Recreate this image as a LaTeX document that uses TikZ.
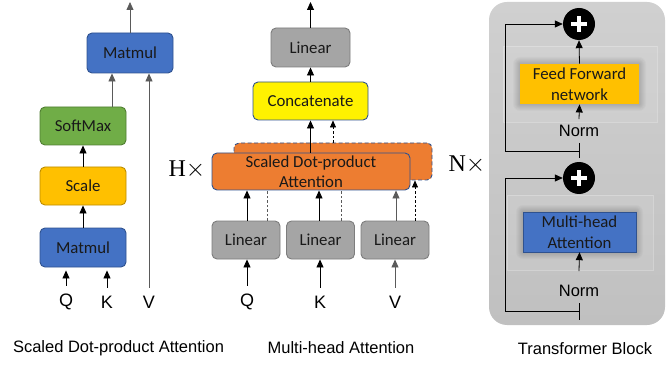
\documentclass[tikz,border=0pt]{standalone}
\usepackage{fontspec}
\setmainfont{Liberation Sans}
\newfontfamily\boxfont{Carlito}
\newfontfamily\timesfont{Liberation Serif}
\usetikzlibrary{positioning,calc,arrows.meta}

\definecolor{mmblue}{RGB}{68,114,196}
\definecolor{mmedge}{RGB}{47,82,143}
\definecolor{smgreen}{RGB}{112,173,71}
\definecolor{smedge}{RGB}{80,126,50}
\definecolor{scgold}{RGB}{255,192,0}
\definecolor{scedge}{RGB}{188,140,0}
\definecolor{lingray}{RGB}{165,165,165}
\definecolor{linedge}{RGB}{125,125,125}
\definecolor{attorange}{RGB}{237,125,49}
\definecolor{panellight}{RGB}{208,208,208}
\definecolor{paneldark}{RGB}{192,192,192}
\definecolor{wiregray}{RGB}{90,90,90}
\definecolor{inktext}{RGB}{25,25,25}

\begin{document}
\begin{tikzpicture}[x=1pt, y=-1pt,
    blk/.style={rounded corners=5pt, line width=0.9pt, inner sep=0pt, align=center,
                text=inktext, font=\boxfont\fontsize{16.8}{20.5}\selectfont},
    arr/.style={-{Triangle[length=8pt,width=7pt]}, line width=0.8pt},
    dsh/.style={dashed, line width=0.6pt, dash pattern=on 2.5pt off 2pt},
    lbl/.style={inner sep=0pt, font=\fontsize{18}{20}\selectfont},
    captxt/.style={inner sep=0pt, font=\fontsize{16.5}{20}\selectfont},
    reptxt/.style={inner sep=0pt, font=\timesfont\fontsize{24}{26}\selectfont},
    plusnode/.style={circle, fill=black, minimum size=32pt, inner sep=0pt}]
    \useasboundingbox (0,0) rectangle (666,366);

    % Scaled Dot-product Attention
    \node [blk, fill=mmblue, draw=mmedge, minimum width=86pt, minimum height=40pt] (mmtop) at (130,53) {Matmul};
    \node [blk, fill=smgreen, draw=smedge, minimum width=86pt, minimum height=38pt] (soft) at (83,126) {SoftMax};
    \node [blk, fill=scgold, draw=scedge, minimum width=86pt, minimum height=38pt] (scale) at (83,186) {Scale};
    \node [blk, fill=mmblue, draw=mmedge, minimum width=86pt, minimum height=39pt] (mmbot) at (83,247.5) {Matmul};
    \node [lbl] (q1) at (66,302) {Q};
    \node [lbl] (k1) at (107,302) {K};
    \node [lbl] (v1) at (149,302) {V};
    \coordinate (outA) at (130,2);

    \draw[arr] ([yshift=8pt]q1.north) -- ([yshift=-3pt]q1.north |- mmbot.south);
    \draw[arr] ([yshift=8pt]k1.north) -- ([yshift=-3pt]k1.north |- mmbot.south);
    \draw[arr] (mmbot.north) -- (scale.south);
    \draw[arr] (scale.north) -- (soft.south);
    \draw[arr, draw=wiregray] ([xshift=29pt]soft.north) -- ([xshift=29pt]soft.north |- mmtop.south);
    \draw[arr, draw=wiregray] ([yshift=8pt]v1.north) -- (v1.north |- mmtop.south);
    \draw[arr, draw=wiregray] (mmtop.north) -- (outA);
    \node [captxt] (capA) at (118.5,348) {Scaled Dot-product Attention};

    % Multi-head Attention
    \node [blk, fill=lingray, draw=linedge, minimum width=79pt, minimum height=39pt] (linout) at (310.5,47.5) {Linear};
    \node [blk, fill=yellow, draw=mmedge, minimum width=115pt, minimum height=38pt] (concat) at (310.5,101) {Concatenate};
    \node [blk, fill=attorange, draw=mmedge, dashed, dash pattern=on 4pt off 2.5pt, minimum width=198pt, minimum height=37pt] (headB) at (333,161.5) {};
    \node [blk, fill=attorange, draw=mmedge, minimum width=198pt, minimum height=37pt] (headA) at (311,171.5) {Scaled Dot-product\\Attention};
    \node [blk, fill=lingray, draw=linedge, minimum width=68pt, minimum height=38pt] (linq) at (246,240) {Linear};
    \node [blk, fill=lingray, draw=linedge, minimum width=68pt, minimum height=38pt] (link) at (320.5,240) {Linear};
    \node [blk, fill=lingray, draw=linedge, minimum width=68pt, minimum height=38pt] (linv) at (395,240) {Linear};
    \node [lbl] (q2) at (247,302) {Q};
    \node [lbl] (k2) at (320,302) {K};
    \node [lbl] (v2) at (395,302) {V};
    \node [reptxt] (hx) at (187,170) {H$\times$};
    \coordinate (outB) at (310.5,2);

    \draw[arr] ([yshift=8pt]q2.north) -- (q2.north |- linq.south);
    \draw[arr] ([yshift=8pt]k2.north) -- (k2.north |- link.south);
    \draw[arr, draw=wiregray] ([yshift=8pt]v2.north) -- (v2.north |- linv.south);
    \draw[arr] ([xshift=1pt]linq.north) -- ([xshift=1pt]linq.north |- headA.south);
    \draw[arr] ([xshift=-1.5pt]link.north) -- ([xshift=-1.5pt]link.north |- headA.south);
    \draw[arr, draw=wiregray] ([xshift=1pt]linv.north) -- ([xshift=1pt]linv.north |- headA.south);
    \draw[dsh, draw=wiregray] ([xshift=21pt]linq.north) -- ([xshift=21pt]linq.north |- headA.south);
    \draw[dsh, draw=wiregray] ([xshift=20.5pt]link.north) -- ([xshift=20.5pt]link.north |- headA.south);
    \draw[dsh, -{Triangle[length=7pt,width=6pt]}] ([xshift=20pt]linv.north) -- ([xshift=20pt]linv.north |- headB.south);
    \draw[arr] (headA.north -| concat.south) -- (concat.south);
    \draw[dsh, -{Triangle[length=7pt,width=6pt]}] (headB.north) -- (headB.north |- concat.south);
    \draw[arr] (concat.north) -- (linout.south);
    \draw[arr] (linout.north) -- (outB);
    \node [captxt] (capB) at (341,348) {Multi-head Attention};

    % Transformer Block
    \shade[top color=panellight, bottom color=paneldark, rounded corners=18pt] (489,2) rectangle (665,325);
    \fill[white, opacity=0.08] (503,46) rectangle (657,122);
    \draw[white, opacity=0.25, line width=0.5pt] (503,46) rectangle (657,122);
    \fill[white, opacity=0.08] (507,195) rectangle (653,270);
    \draw[white, opacity=0.25, line width=0.5pt] (507,195) rectangle (653,270);
    \foreach \g in {1,...,7} {
        \fill[black, opacity=0.025, rounded corners=\g pt] (520-\g,64-\g) rectangle (639+\g,104+\g);
        \fill[black, opacity=0.025, rounded corners=\g pt] (523-\g,212-\g) rectangle (636+\g,252+\g);
    }
    \node [blk, rounded corners=0pt, fill=scgold, minimum width=119pt, minimum height=40pt] (ffn) at (579.5,84) {Feed Forward\\network};
    \node [blk, rounded corners=0pt, fill=mmblue, draw=mmedge, line width=0.4pt, minimum width=113pt, minimum height=40pt] (mha) at (579.5,232) {Multi-head\\Attention};
    \node [plusnode] (plusA) at (579,24) {};
    \node [plusnode] (plusB) at (579,178) {};
    \draw[white, line width=3.5pt] ([xshift=-8pt]plusA.center) -- ([xshift=8pt]plusA.center);
    \draw[white, line width=3.5pt] ([yshift=-8pt]plusA.center) -- ([yshift=8pt]plusA.center);
    \draw[white, line width=3.5pt] ([xshift=-8pt]plusB.center) -- ([xshift=8pt]plusB.center);
    \draw[white, line width=3.5pt] ([yshift=-8pt]plusB.center) -- ([yshift=8pt]plusB.center);
    \node [captxt] (normA) at (579,131) {Norm};
    \node [captxt] (normB) at (579,291) {Norm};
    \node [reptxt] (nx) at (467,165) {N$\times$};
    \coordinate (tapA) at (579,151);
    \coordinate (tapB) at (579,311);

    \draw[arr] ([yshift=6pt]normA.north) -- (ffn.south);
    \draw[arr] (ffn.north) -- (plusA.south);
    \draw[arr] ([yshift=14pt]normB.north) -- (mha.south);
    \draw[line width=0.8pt] ([yshift=8pt]tapA) -- ([yshift=-7pt]tapA);
    \draw[line width=0.8pt] ([yshift=8pt]tapB) -- ([yshift=-9pt]tapB);
    \draw[arr] (tapA) -- ++(-74,0) |- (plusA.west);
    \draw[arr] (tapB) -- ++(-74,0) |- (plusB.west);
    \node [captxt] (capC) at (585,349) {Transformer Block};
\end{tikzpicture}
\end{document}
